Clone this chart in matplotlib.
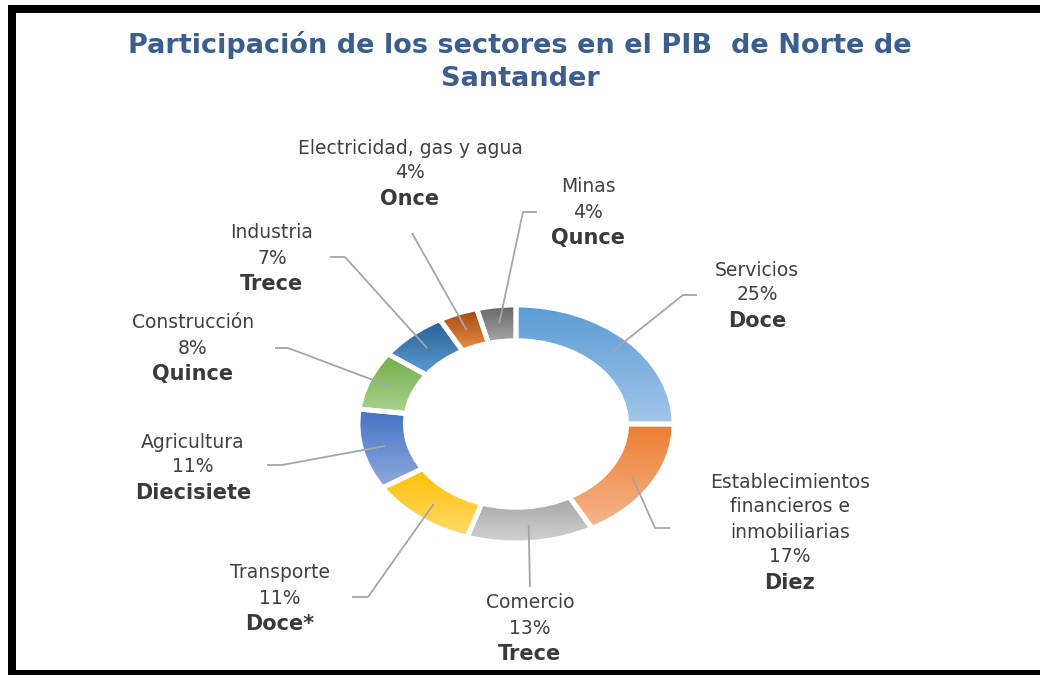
import numpy as np
import matplotlib
matplotlib.use("Agg")
import matplotlib.pyplot as plt
from matplotlib.colors import LinearSegmentedColormap
from matplotlib.patches import Rectangle

# ---------------- data ----------------
sectors = ["Servicios", "Establecimientos\nfinancieros e\ninmobiliarias", "Comercio",
           "Transporte", "Agricultura", "Construcción", "Industria",
           "Electricidad, gas y agua", "Minas"]
shares = [25, 17, 13, 11, 11, 8, 7, 4, 4]
ranks = ["Doce", "Diez", "Trece", "Doce*", "Diecisiete", "Quince", "Trece", "Once", "Qunce"]

title = "Participación de los sectores en el PIB  de Norte de\nSantander"

# ---------------- styles ----------------
top_colors = ["#5B9BD5", "#ED7D31", "#A5A5A5", "#FFC000", "#4472C4",
              "#70AD47", "#255E91", "#9E480E", "#636363"]
bottom_colors = ["#A3C6E9", "#F5B68C", "#D2D2D2", "#FFDA6E", "#90ABDD",
                 "#ACD392", "#5E9CD6", "#F08A45", "#A8A8A8"]

# label layout (pixel coords): text centre x, first line y, leader start, leader elbow
label_layout = [
    (757, 270, (697, 295), (683, 295)),
    (790, 482, (670, 528), (655, 528)),
    (530, 603, (530, 587), (530, 587)),
    (280, 573, (352, 597), (368, 597)),
    (193, 442, (267, 465), (282, 465)),
    (193, 323, (275, 348), (288, 348)),
    (272, 233, (330, 257), (345, 257)),
    (410, 148, (412, 233), (412, 233)),
    (588, 187, (537, 212), (523, 212)),
]

W, H = 1040, 675
fig = plt.figure(figsize=(W / 100, H / 100), dpi=100)
fig.patch.set_facecolor("white")

# donut axes (elliptical, as in the reference)
cx, cy, rx, ry = 516, 424, 158, 119
L = 1.3
ax = fig.add_axes([(cx - rx * L) / W, (H - cy - ry * L) / H, 2 * rx * L / W, 2 * ry * L / H])
wedges, _ = ax.pie(shares, startangle=90, counterclock=False, radius=1.0,
                   wedgeprops=dict(width=0.3, edgecolor="white", linewidth=3.5))

grad = np.linspace(0, 1, 256).reshape(-1, 1)
for w, c0, c1 in zip(wedges, top_colors, bottom_colors):
    ext = w.get_path().get_extents()
    cmap = LinearSegmentedColormap.from_list("g", [c0, c1])
    im = ax.imshow(grad, extent=(ext.x0, ext.x1, ext.y0, ext.y1), origin="upper",
                   cmap=cmap, aspect="auto", interpolation="bicubic", zorder=1)
    im.set_clip_path(w)
    w.set_facecolor("none")
    w.set_zorder(2)

ax.set_aspect("auto")
ax.set_xlim(-L, L)
ax.set_ylim(-L, L)
ax.axis("off")

# overlay axes in pixel coordinates for labels, leaders and frame
ov = fig.add_axes([0, 0, 1, 1], zorder=3)
ov.set_xlim(0, W)
ov.set_ylim(H, 0)
ov.axis("off")

fig.text(0.5, 1 - 45 / H, title.split("\n")[0], ha="center", va="center",
         fontsize=19.5, fontweight="bold", color="#3B5E8C", family="DejaVu Sans")
fig.text(0.5, 1 - 79 / H, title.split("\n")[1], ha="center", va="center",
         fontsize=19.5, fontweight="bold", color="#3B5E8C", family="DejaVu Sans")

cum = 0.0
total = float(sum(shares))
for name, val, rank, (tx, ty, p0, p1) in zip(sectors, shares, ranks, label_layout):
    mid = np.deg2rad(90 - 360 * (cum + val / 2) / total)
    cum += val
    pd = (0.85 * np.cos(mid), 0.85 * np.sin(mid))
    disp = ax.transData.transform(pd)
    px, py = ov.transData.inverted().transform(disp)
    ov.plot([p0[0], p1[0], px], [p0[1], p1[1], py], color="#A6A6A6", lw=1.3,
            solid_capstyle="butt", zorder=4)

    lines = name.split("\n") + [f"{val}%"]
    y = ty
    for ln in lines:
        ov.text(tx, y, ln, ha="center", va="center", fontsize=13.5,
                color="#404040", family="DejaVu Sans")
        y += 25
    ov.text(tx, y + 1, rank, ha="center", va="center", fontsize=15,
            fontweight="bold", color="#3A3A3A", family="DejaVu Sans")

# black frame (left, top, bottom)
for (x0, y0, w_, h_) in [(8, 5, 8, 670), (8, 5, 1032, 8), (8, 670, 1032, 5)]:
    ov.add_patch(Rectangle((x0, y0), w_, h_, facecolor="black", edgecolor="none",
                           clip_on=False, zorder=5))

fig.savefig("out.png", dpi=100, facecolor="white")
